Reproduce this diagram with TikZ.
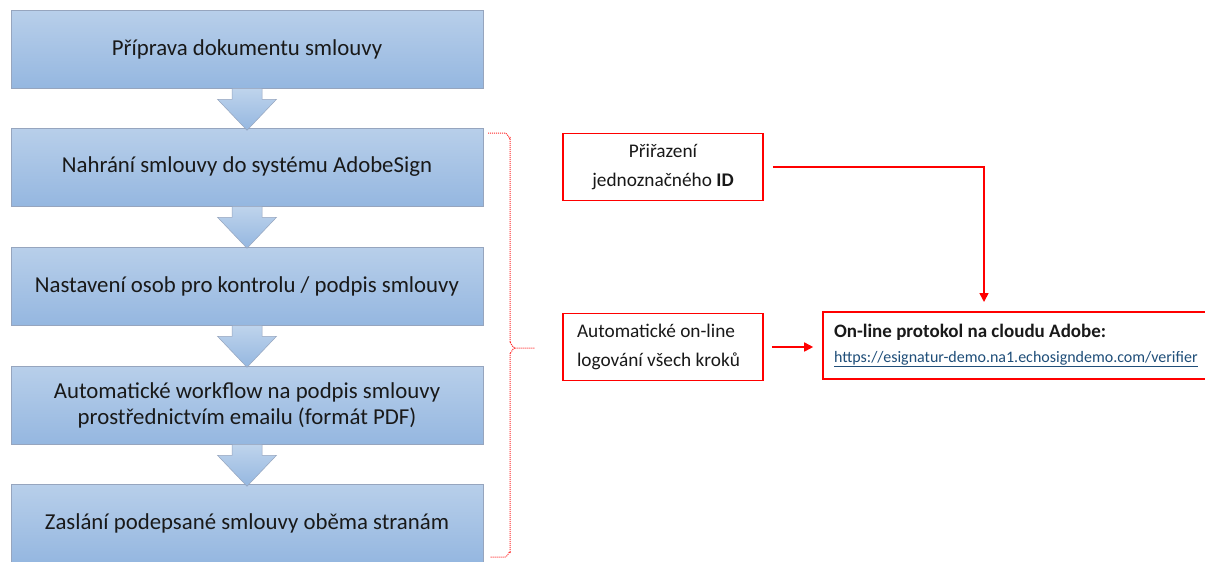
\documentclass[tikz,border=0pt]{standalone}
\usepackage{fontspec}
\setmainfont{Carlito}
\usetikzlibrary{arrows.meta,calc}
\definecolor{boxtop}{RGB}{184,207,234}
\definecolor{boxbot}{RGB}{149,183,224}
\definecolor{boxline}{RGB}{150,165,190}
\definecolor{txt}{RGB}{25,25,25}
\definecolor{linkblue}{RGB}{31,78,121}
\definecolor{pred}{RGB}{255,0,0}
\tikzset{
  stepbox/.style={draw=boxline,line width=0.6pt,top color=boxtop,bottom color=boxbot,
    minimum width=472pt,minimum height=78pt,inner sep=0pt,align=center,text=txt,
    font=\fontsize{22.8}{26}\selectfont},
  blockarrow/.style={draw=boxline,line width=0.5pt,top color=boxtop!90!white,bottom color=boxbot},
  redbox/.style={draw=pred,line width=1.6pt,minimum width=200pt,minimum height=67pt,inner sep=0pt,
    text=txt,font=\fontsize{19.3}{29.5}\selectfont},
  redarrow/.style={draw=pred,line width=1.6pt,-{Triangle[length=9pt,width=9pt]}},
  bracket/.style={draw=pred!85,line width=1pt,densely dotted}
}
\newcommand{\blkarrow}[1]{%
  \path[blockarrow] ($(#1)+(-15,0)$) -- ++(0,11) -- ++(-14.5,0) -- ++(29.5,31) -- ++(29.5,-31) -- ++(-14.5,0) -- ++(0,-11) -- cycle;}
\begin{document}
\begin{tikzpicture}[x=1pt,y=-1pt]
\useasboundingbox (0,0) rectangle (1205,562);
\clip (0,0) rectangle (1205,562);
\fill[white] (0,0) rectangle (1205,562);
\node[stepbox] (b1) at (247,49) {Příprava dokumentu smlouvy};
\node[stepbox] (b2) at (247,167) {Nahrání smlouvy do systému AdobeSign};
\node[stepbox] (b3) at (247,286) {Nastavení osob pro kontrolu / podpis smlouvy};
\node[stepbox] (b4) at (247,405) {Automatické workflow na podpis smlouvy\\prostřednictvím emailu (formát PDF)};
\node[stepbox] (b5) at (247,523) {Zaslání podepsané smlouvy oběma stranám};
\blkarrow{b1.south}
\blkarrow{b2.south}
\blkarrow{b3.south}
\blkarrow{b4.south}
% bracket
\path[bracket] (488,133) -- (505,133) to[out=0,in=-90] (510,138) -- (510,343) to[out=90,in=180] (515,348) -- (535,348);
\path[bracket] (515,348) to[out=180,in=-90] (510,353) -- (510,552) to[out=90,in=0] (505,557) -- (490,557);
% red boxes
\node[redbox,align=center] (A) at (663,167) {Přiřazení\\jednoznačného \textbf{ID}};
\node[redbox,align=flush left,text width=172pt] (B) at (663,347) {Automatické on-line\\logování všech kroků};
\node[redbox,align=flush left,minimum width=392pt,text width=370pt,font=\fontsize{16}{25}\selectfont] (C) at (1019,345.5)
  {\textbf{\fontsize{19}{25}\selectfont On-line protokol na cloudu Adobe:}\\\textcolor{linkblue}{\underline{https://esignatur-demo.na1.echosigndemo.com/verifier}}};
\coordinate (ctop) at (984,302);
\draw[redarrow] ([xshift=9pt]A.east) -| (ctop);
\draw[redarrow] ([xshift=8pt]B.east) -- ([xshift=-9pt]C.west |- B.east);
\end{tikzpicture}
\end{document}
